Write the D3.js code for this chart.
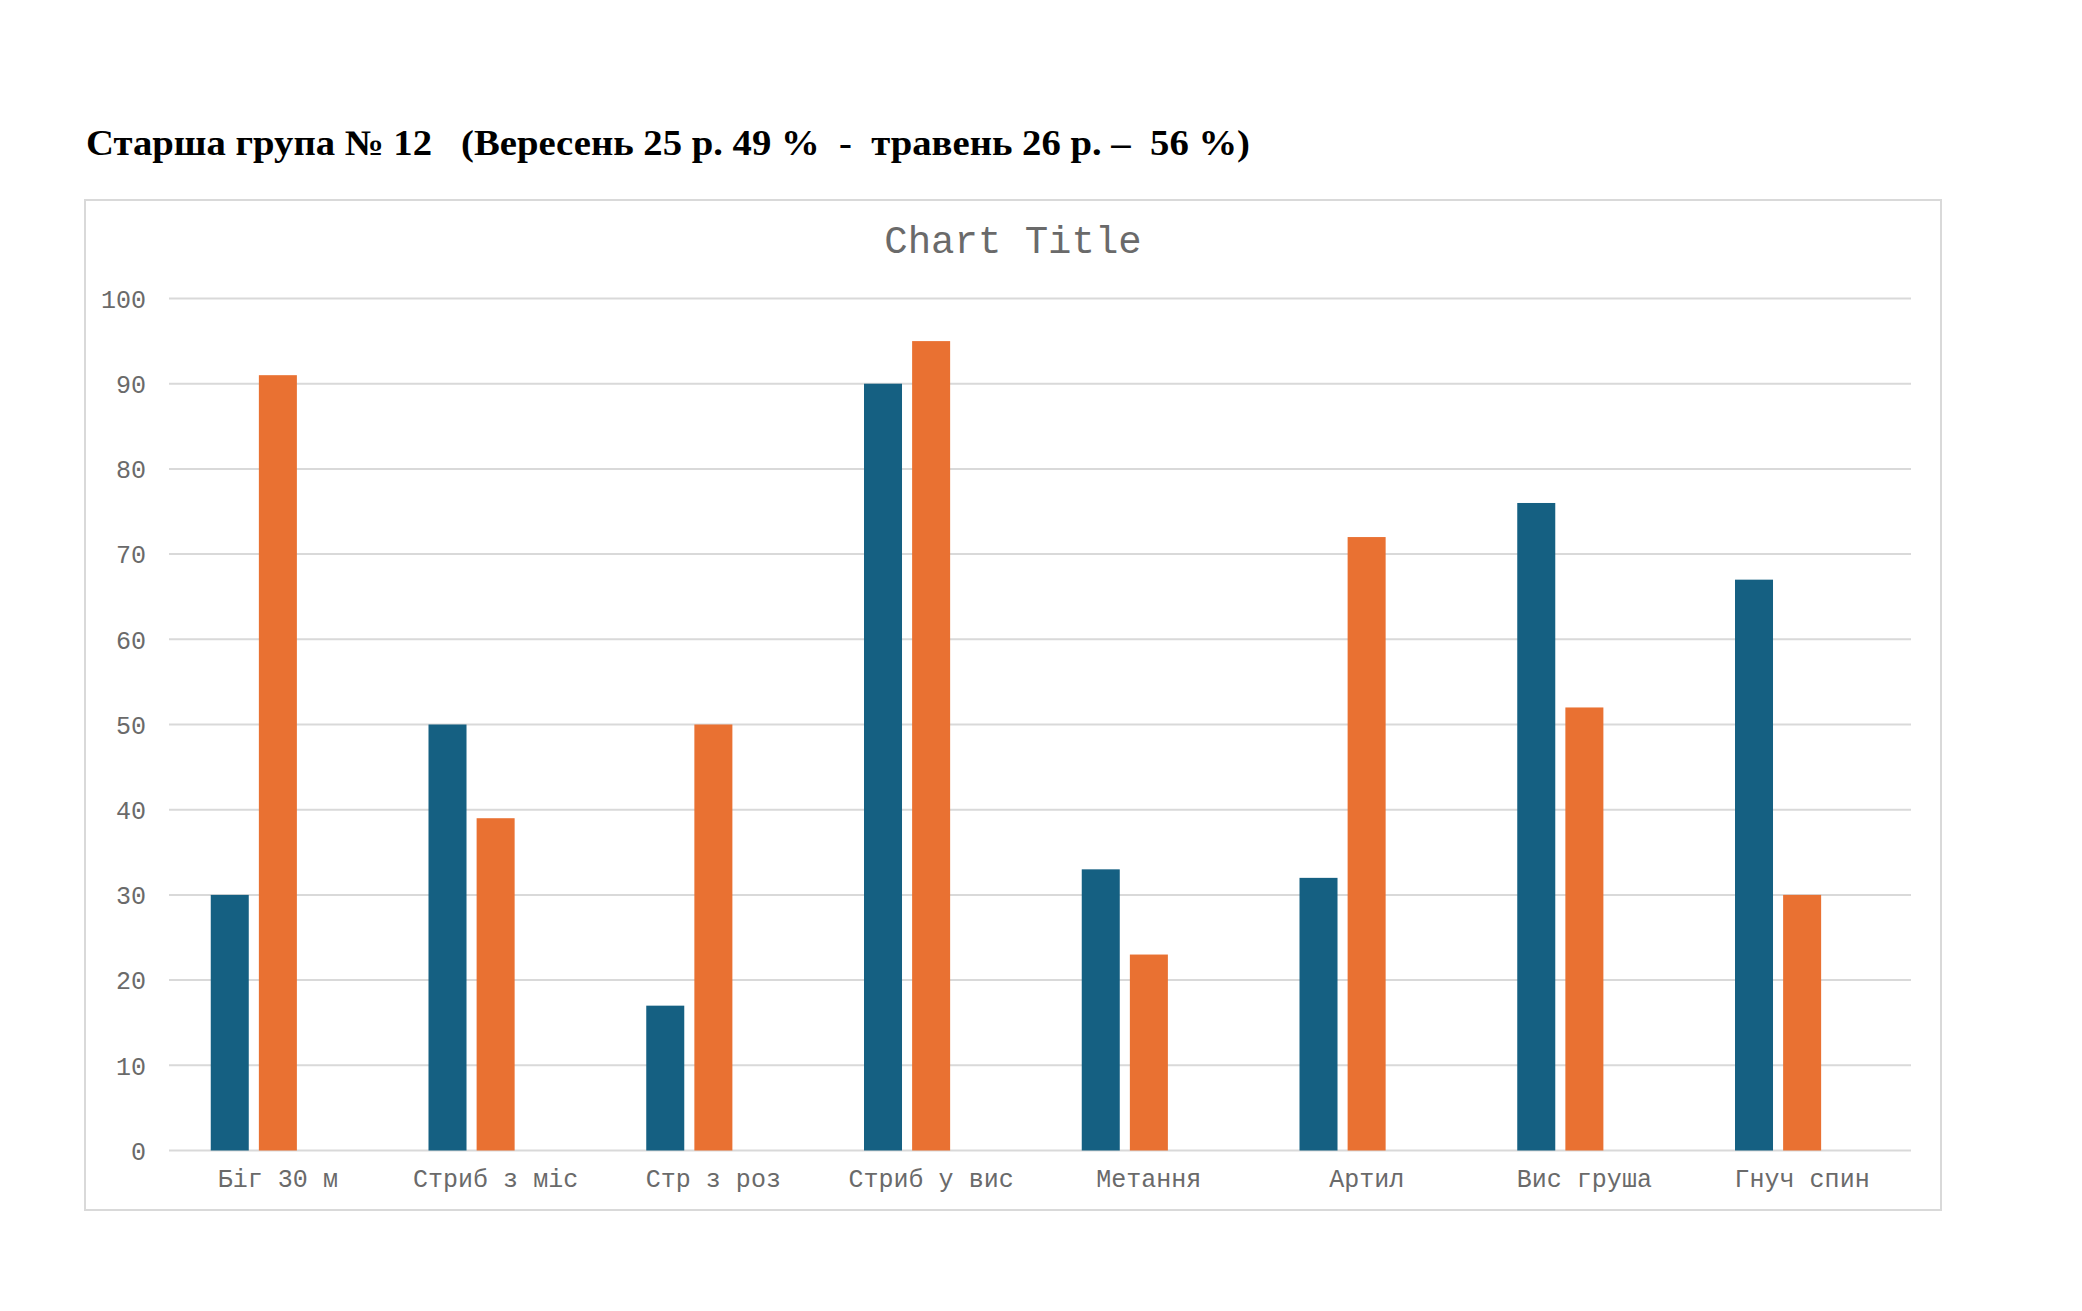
<!DOCTYPE html>
<html>
<head>
<meta charset="utf-8">
<script src="https://cdn.jsdelivr.net/npm/d3@7/dist/d3.min.js"></script>
<style>
    body { margin: 0; background: #fff; }
    .heading { font-family: "Liberation Serif", "Times New Roman", serif; font-weight: bold; font-size: 36px; white-space: pre; }
    .mono { font-family: "Liberation Mono", "Courier New", monospace; fill: #6a6a6a; }
</style>
</head>
<body>
<svg id="chart"></svg>
<script>
// data
var categories = ["Біг 30 м", "Стриб з міс", "Стр з роз", "Стриб у вис", "Метання", "Артил", "Вис груша", "Гнуч спин"];
var september = [30, 50, 17, 90, 33, 32, 76, 67];
var may = [91, 39, 50, 95, 23, 72, 52, 30];
// the source sheet had a third (empty) series, so every group keeps a blank slot
var slots = ["september", "may", "empty"];
var yTicks = [0, 10, 20, 30, 40, 50, 60, 70, 80, 90, 100];
var heading = "Старша група № 12   (Вересень 25 р. 49 %  -  травень 26 р. –  56 %)";
var chartTitle = "Chart Title";

/** Class drawing the grouped bar chart. */
class BarChart {
    constructor() {
        this.svg = d3.select('#chart')
            .attr('width', 2082)
            .attr('height', 1311);
        this.x = d3.scaleBand().domain(categories).range([169, 1911]);
        this.xSub = d3.scaleBand().domain(slots)
            .range([41.75, this.x.bandwidth() - 41.75])
            .paddingInner(0.21);
        this.y = d3.scaleLinear().domain([0, 100]).range([1150.5, 298.5]);
        this.color = d3.scaleOrdinal().domain(slots).range(['#156082', '#e97132', '#196b24']);
    }

    /**
     * Heading above the chart, chart frame and chart title
     */
    drawFrame() {
        // the document font renders wider than Liberation Serif, stretch to its width
        this.svg.append('text')
            .attr('class', 'heading')
            .attr('x', 86)
            .attr('y', 155)
            .attr('textLength', 1164)
            .attr('lengthAdjust', 'spacingAndGlyphs')
            .text(heading);

        this.svg.append('rect')
            .attr('x', 85)
            .attr('y', 200)
            .attr('width', 1856)
            .attr('height', 1010)
            .attr('fill', '#fff')
            .attr('stroke', '#d9d9d9')
            .attr('stroke-width', 2);

        this.svg.append('text')
            .attr('class', 'mono')
            .attr('x', 1013)
            .attr('y', 253)
            .attr('text-anchor', 'middle')
            .style('font-size', '39px')
            .text(chartTitle);
    }

    /**
     * Gridlines and both axes
     */
    drawAxes() {
        var x = this.x, y = this.y;
        this.svg.append('g')
            .selectAll('line')
            .data(yTicks)
            .enter()
            .append('line')
            .attr('x1', x.range()[0])
            .attr('x2', x.range()[1])
            .attr('y1', d => y(d))
            .attr('y2', d => y(d))
            .attr('stroke', '#d9d9d9')
            .attr('stroke-width', 2);

        var yAxis = this.svg.append('g')
            .attr('transform', 'translate(146,0)')
            .call(d3.axisLeft(y).tickValues(yTicks).tickSize(0).tickPadding(0));
        yAxis.select('.domain').remove();
        yAxis.selectAll('text')
            .attr('class', 'mono')
            .attr('dy', '0.35em')
            .style('font-size', '25px');

        var xAxis = this.svg.append('g')
            .attr('transform', 'translate(0,' + y(0) + ')')
            .call(d3.axisBottom(x).tickSize(0).tickPadding(0));
        xAxis.select('.domain').remove();
        xAxis.selectAll('text')
            .attr('class', 'mono')
            .attr('dy', '36px')
            .style('font-size', '25px');
    }

    /**
     * Bars of both filled series
     */
    drawBars() {
        var x = this.x, xSub = this.xSub, y = this.y, color = this.color;
        var rows = categories.map(function(c, i) {
            return {cat: c, values: [
                {key: 'september', v: september[i]},
                {key: 'may', v: may[i]}
            ]};
        });
        this.svg.append('g')
            .selectAll('g')
            .data(rows)
            .enter()
            .append('g')
            .attr('transform', d => 'translate(' + x(d.cat) + ',0)')
            .selectAll('rect')
            .data(d => d.values)
            .enter()
            .append('rect')
            .attr('x', d => xSub(d.key))
            .attr('width', xSub.bandwidth())
            .attr('y', d => y(d.v))
            .attr('height', d => y(0) - y(d.v))
            .attr('fill', d => color(d.key));
    }
}

var chart = new BarChart();
chart.drawFrame();
chart.drawAxes();
chart.drawBars();
</script>
</body>
</html>
